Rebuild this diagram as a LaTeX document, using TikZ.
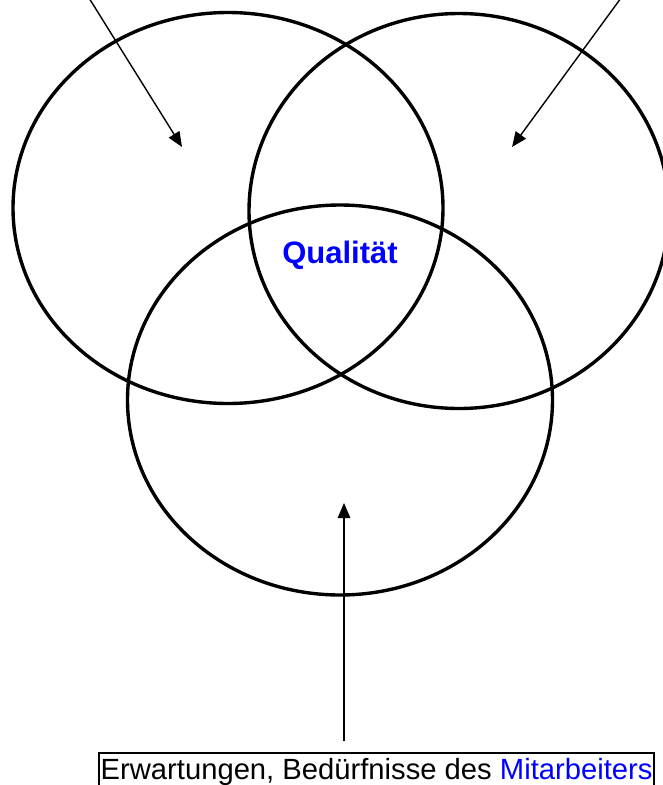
\documentclass[tikz,border=0pt]{standalone}
\usepackage{fontspec}
\setmainfont{Liberation Sans}
\usetikzlibrary{shapes.geometric,arrows.meta}
\definecolor{qblue}{RGB}{0,0,255}
\begin{document}
\begin{tikzpicture}[x=1pt,y=-1pt,
  ring/.style={draw,ellipse,line width=3.4pt,inner sep=0pt},
  pointer/.style={line width=1.4pt,-{Triangle[length=15pt,width=12.5pt]}}]
\useasboundingbox (0,0) rectangle (663,785);
\node[ring,minimum width=430pt,minimum height=391pt] (left) at (228,208) {};
\node[ring,minimum width=420pt,minimum height=395pt] (right) at (459,211) {};
\node[ring,minimum width=425pt,minimum height=390pt] (bottom) at (340,400) {};
\node[text=qblue,font=\bfseries\fontsize{31}{36}\selectfont] (q) at (340,255) {Qualität};
\coordinate (lstart) at (89,-2);
\coordinate (ltip) at (182,147);
\coordinate (rstart) at (621,-2);
\coordinate (rtip) at (512,147);
\coordinate (btip) at (344,503);
\node[draw,line width=1.5pt,anchor=north west,minimum width=555pt,minimum height=40pt,inner sep=0pt] (box) at (98,752) {};
\node[anchor=base west,font=\fontsize{29.2}{34}\selectfont,inner sep=0pt] (lbl) at (100.5,779) {Erwartungen, Bedürfnisse des \textcolor{qblue}{Mitarbeiters}};
\coordinate (bstart) at (344,741);
\draw[pointer] (lstart) -- (ltip);
\draw[pointer] (rstart) -- (rtip);
\draw[pointer] (bstart) -- (btip);
\end{tikzpicture}
\end{document}
